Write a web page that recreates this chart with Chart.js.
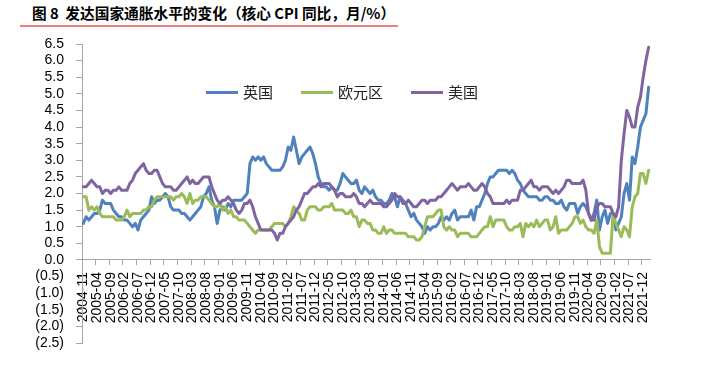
<!DOCTYPE html>
<html>
<head>
<meta charset="utf-8">
<script src="https://cdn.jsdelivr.net/npm/chart.js@4.4.1/dist/chart.umd.min.js"></script>
<style>
html,body{margin:0;padding:0;background:#fff;}
#wrap{position:relative;width:701px;height:365px;overflow:hidden;background:#fff;}
#title{position:absolute;left:32px;top:4px;font-family:"Noto Sans CJK SC",sans-serif;font-weight:bold;font-size:14.7px;line-height:18px;color:#000;white-space:pre;}
#rule{position:absolute;left:20px;top:25px;width:378px;height:2px;background:#ee8080;}
#chart{position:absolute;left:0;top:0;}
.lg{position:absolute;top:82px;height:20px;font-family:"Noto Sans CJK SC",sans-serif;font-size:15px;line-height:20px;color:#222;}
.lg i{position:absolute;top:9px;height:3px;width:32px;}
.lg span{position:absolute;top:0;white-space:nowrap;}
</style>
</head>
<body>
<div id="wrap">
  <div id="title">图 8  发达国家通胀水平的变化（核心 CPI 同比，月/%）</div>
  <div id="rule"></div>
  <canvas id="chart" width="701" height="365"></canvas>
  <div class="lg" style="left:206px"><i style="left:0;background:#4f81bd"></i><span style="left:37px">英国</span></div>
  <div class="lg" style="left:301px"><i style="left:0;background:#9bbb59"></i><span style="left:37px">欧元区</span></div>
  <div class="lg" style="left:411px"><i style="left:0;background:#8064a2"></i><span style="left:37px">美国</span></div>
</div>
<script>
// monthly series, 2004-11 .. 2022-02
const startYear = 2004, startMonth = 11;
const seriesNames = ['英国', '欧元区', '美国'];

const uk = [
  1.1, 1.3,
  1.2, 1.3, 1.4, 1.4, 1.5, 1.8, 1.7, 1.7, 1.7, 1.5, 1.4, 1.3,
  1.3, 1.2, 1.2, 1.1, 1.0, 1.1, 0.9, 1.2, 1.3, 1.4, 1.5, 1.9,
  1.7, 1.8, 1.8, 1.9, 2.0, 1.9, 1.6, 1.5, 1.5, 1.5, 1.4, 1.4,
  1.3, 1.2, 1.3, 1.4, 1.5, 1.6, 1.9, 2.0, 2.2, 1.8, 1.6, 1.1,
  1.5, 1.6, 1.5, 1.7, 1.6, 1.8, 1.8, 1.8, 1.8, 1.9, 2.0, 2.9,
  3.1, 3.0, 3.1, 3.0, 3.1, 2.9, 2.8, 2.7, 2.7, 2.7, 2.7, 2.8,
  3.0, 3.4, 3.3, 3.7, 3.3, 2.9, 3.1, 3.2, 3.3, 3.4, 3.2, 2.9,
  2.5, 2.3, 2.2, 2.2, 2.1, 2.2, 2.1, 2.1, 2.3, 2.6, 2.5, 2.4,
  2.3, 2.3, 2.4, 2.1, 2.0, 2.2, 2.1, 2.0, 2.1, 1.9, 1.8, 1.8,
  1.7, 1.7, 1.8, 2.0, 1.9, 1.6, 1.9, 1.8, 1.7, 1.5, 1.3, 1.4,
  1.2, 1.1, 1.0, 0.8, 1.0, 0.9, 1.0, 1.0, 1.1, 1.3, 1.2, 1.3,
  1.2, 1.4, 1.5, 1.2, 1.3, 1.3, 1.3, 1.3, 1.5, 1.2, 1.6, 1.6,
  1.8, 2.0, 2.3, 2.5, 2.5, 2.6, 2.7, 2.7, 2.7, 2.7, 2.6, 2.7,
  2.6, 2.4, 2.3, 2.1, 2.0, 1.9, 1.9, 1.9, 1.9, 1.8, 1.8, 1.9,
  1.9, 1.8, 1.8, 1.7, 1.7, 1.8, 1.6, 1.5, 1.7, 1.7, 1.7, 1.4,
  1.6, 1.7, 1.6, 1.4, 1.2, 1.4, 1.8, 0.9, 1.3, 1.5, 1.1, 1.4,
  1.4, 0.9, 1.1, 1.3, 2.0, 2.3, 1.8, 3.1, 2.9, 3.4, 4.0, 4.2,
  4.4, 5.2
];

const euro = [
  1.9, 1.9,
  1.5, 1.6, 1.5, 1.6, 1.4, 1.3, 1.3, 1.3, 1.3, 1.3, 1.2, 1.2,
  1.2, 1.3, 1.5, 1.3, 1.4, 1.4, 1.4, 1.4, 1.5, 1.5, 1.6, 1.6,
  1.8, 1.9, 1.9, 1.9, 1.9, 1.9, 1.9, 1.8, 1.9, 1.9, 2.0, 1.9,
  1.7, 2.0, 1.7, 1.8, 1.8, 1.9, 1.9, 1.9, 1.8, 1.7, 1.6, 1.6,
  1.7, 1.5, 1.6, 1.4, 1.5, 1.3, 1.3, 1.2, 1.2, 1.2, 1.1, 1.0,
  0.9, 0.8, 0.9, 0.9, 0.9, 0.9, 0.9, 1.0, 1.1, 1.1, 1.1, 1.1,
  1.0, 1.1, 1.3, 1.6, 1.5, 1.4, 1.2, 1.2, 1.5, 1.6, 1.6, 1.6,
  1.5, 1.5, 1.6, 1.6, 1.6, 1.7, 1.5, 1.5, 1.5, 1.5, 1.4, 1.4,
  1.5, 1.3, 1.3, 1.0, 1.2, 1.2, 1.1, 1.1, 0.9, 0.9, 0.8, 0.8,
  1.0, 0.8, 0.9, 0.9, 0.8, 0.8, 0.8, 0.8, 0.8, 0.7, 0.7, 0.7,
  0.6, 0.6, 0.7, 1.0, 1.3, 1.3, 1.3, 1.4, 1.5, 1.5, 1.0, 0.9,
  1.0, 0.9, 0.9, 0.7, 0.8, 0.8, 0.8, 0.8, 0.7, 0.7, 0.7, 0.8,
  0.9, 1.0, 1.0, 1.3, 1.0, 1.2, 1.2, 1.2, 1.2, 1.0, 0.9, 0.9,
  1.0, 1.0, 1.1, 0.7, 1.1, 1.0, 1.1, 1.0, 1.2, 1.0, 1.1, 1.2,
  1.2, 0.9, 1.0, 1.3, 0.8, 0.9, 0.9, 0.9, 1.0, 1.1, 1.3, 1.3,
  1.1, 1.2, 1.0, 0.9, 0.9, 0.8, 1.2, 0.4, 0.2, 0.2, 0.2, 0.2,
  1.4, 1.1, 0.9, 0.7, 1.0, 0.9, 0.7, 1.6, 1.9, 2.0, 2.6, 2.6,
  2.3, 2.7
];

const us = [
  2.2, 2.2,
  2.3, 2.4, 2.3, 2.2, 2.2, 2.0, 2.1, 2.1, 2.0, 2.1, 2.1, 2.2,
  2.1, 2.1, 2.1, 2.3, 2.4, 2.6, 2.7, 2.8, 2.9, 2.7, 2.6, 2.6,
  2.7, 2.7, 2.5, 2.3, 2.2, 2.2, 2.2, 2.1, 2.1, 2.2, 2.3, 2.4,
  2.5, 2.3, 2.4, 2.3, 2.3, 2.4, 2.5, 2.5, 2.5, 2.2, 2.0, 1.8,
  1.7, 1.8, 1.8, 1.9, 1.8, 1.7, 1.5, 1.4, 1.5, 1.7, 1.7, 1.8,
  1.6, 1.3, 1.1, 0.9, 0.9, 0.9, 0.9, 0.9, 0.8, 0.6, 0.8, 0.8,
  1.0, 1.1, 1.2, 1.3, 1.5, 1.6, 1.8, 2.0, 2.0, 2.1, 2.2, 2.2,
  2.3, 2.2, 2.3, 2.3, 2.3, 2.2, 2.1, 1.9, 2.0, 2.0, 1.9, 1.9,
  1.9, 2.0, 1.9, 1.7, 1.7, 1.6, 1.7, 1.8, 1.7, 1.7, 1.7, 1.7,
  1.6, 1.6, 1.7, 1.8, 2.0, 1.9, 1.9, 1.7, 1.7, 1.8, 1.7, 1.6,
  1.6, 1.7, 1.8, 1.8, 1.7, 1.8, 1.8, 1.8, 1.9, 1.9, 2.0, 2.1,
  2.2, 2.3, 2.2, 2.1, 2.2, 2.2, 2.2, 2.3, 2.2, 2.1, 2.1, 2.2,
  2.3, 2.2, 2.0, 1.9, 1.7, 1.7, 1.7, 1.7, 1.7, 1.8, 1.7, 1.8,
  1.8, 1.8, 2.1, 2.1, 2.2, 2.3, 2.4, 2.2, 2.2, 2.1, 2.2, 2.2,
  2.2, 2.1, 2.0, 2.1, 2.0, 2.1, 2.2, 2.4, 2.4, 2.3, 2.3, 2.3,
  2.3, 2.4, 2.1, 1.4, 1.2, 1.2, 1.6, 1.7, 1.7, 1.6, 1.6, 1.6,
  1.4, 1.3, 1.6, 3.0, 3.8, 4.5, 4.3, 4.0, 4.0, 4.6, 4.9, 5.5,
  6.0, 6.4
];

const yTicks = { min: -2.5, max: 6.5, step: 0.5 };
const labelEvery = 5;

const categories = [];
for (let i = 0; i < us.length; i++) {
  const t = (startMonth - 1) + i;
  const y = startYear + Math.floor(t / 12);
  const m = (t % 12) + 1;
  categories.push(y + '-' + (m < 10 ? '0' + m : m));
}

const axisGray = '#a6a6a6';
const tickFont = { family: '"Liberation Sans", Arial, sans-serif', size: 14 };

new Chart(document.getElementById('chart'), {
  type: 'line',
  data: {
    labels: categories,
    datasets: [
      { label: seriesNames[0], data: uk, borderColor: '#4f81bd', order: 3 },
      { label: seriesNames[1], data: euro, borderColor: '#9bbb59', order: 2 },
      { label: seriesNames[2], data: us, borderColor: '#8064a2', order: 1 }
    ].map(d => Object.assign(d, { borderWidth: 3, pointRadius: 0, fill: false, tension: 0, borderJoinStyle: 'round', borderCapStyle: 'round' }))
  },
  options: {
    responsive: false,
    animation: false,
    layout: { padding: { left: 0, top: 44, right: 51, bottom: 22 } },
    plugins: { legend: { display: false }, tooltip: { enabled: false }, title: { display: false } },
    scales: {
      x: {
        type: 'category',
        position: { y: 0 },
        offset: true,
        grid: {
          offset: true, drawOnChartArea: false, drawTicks: true, tickLength: 5,
          tickColor: ctx => (ctx.tick && ctx.tick.value % labelEvery === 0) ? axisGray : 'rgba(0,0,0,0)'
        },
        border: { display: true, color: axisGray, width: 1 },
        ticks: {
          autoSkip: false, minRotation: 90, maxRotation: 90, padding: 7,
          color: '#000', font: tickFont,
          callback: function (v, i) { return (i % labelEvery === 0) ? this.getLabelForValue(v) : ''; }
        },
        afterFit: s => { s.height = 0; }
      },
      y: {
        min: yTicks.min, max: yTicks.max,
        grid: { drawOnChartArea: false, drawTicks: true, tickLength: 6, color: axisGray },
        border: { display: true, color: axisGray, width: 1 },
        ticks: {
          stepSize: yTicks.step, autoSkip: false, padding: 12, color: '#000', font: tickFont,
          callback: v => v < 0 ? '(' + Math.abs(v).toFixed(1) + ')' : v.toFixed(1)
        },
        afterFit: s => { s.width = 82; }
      }
    }
  }
});
</script>
</body>
</html>
